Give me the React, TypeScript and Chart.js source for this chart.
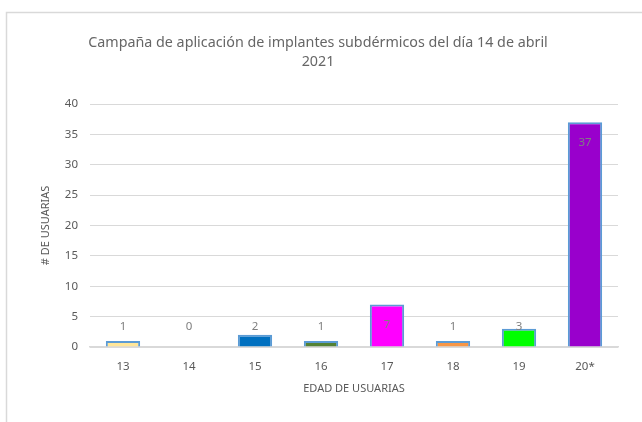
import React, { useEffect, useRef } from "react";
import { Chart, registerables } from "chart.js";

Chart.register(...registerables);

const categories = ["13", "14", "15", "16", "17", "18", "19", "20*"];
const values = [1, 0, 2, 1, 7, 1, 3, 37];
const barColors = ["#FFE699", "#FFFFFF", "#0070C0", "#548235", "#FF00FF", "#F79646", "#00FF00", "#9900CC"];
const titleLines = ["Campaña de aplicación de implantes subdérmicos del día 14 de abril", "2021"];
const yTitle = "# DE USUARIAS";
const xTitle = "EDAD DE USUARIAS";

const FONT = "'Noto Sans', sans-serif";
const TEXT = "#595959";

const framePlugin = {
  id: "frame",
  beforeDraw(chart: any) {
    const ctx = chart.ctx;
    ctx.save();
    ctx.fillStyle = "#ffffff";
    ctx.fillRect(0, 0, chart.width, chart.height);
    ctx.strokeStyle = "#D9D9D9";
    ctx.lineWidth = 1.5;
    ctx.beginPath();
    ctx.moveTo(6.5, chart.height + 2);
    ctx.lineTo(6.5, 12.5);
    ctx.lineTo(chart.width + 2, 12.5);
    ctx.stroke();
    ctx.restore();
  },
  afterDraw(chart: any) {
    const ctx = chart.ctx;
    ctx.save();
    ctx.fillStyle = "#666666";
    ctx.font = `14.3px ${FONT}`;
    ctx.textAlign = "center";
    ctx.textBaseline = "middle";
    const cx = 318;
    titleLines.forEach((line, i) => ctx.fillText(line, cx, 43 + i * 19));
    ctx.restore();
  },
};

const labelPlugin = {
  id: "valueLabels",
  afterDatasetsDraw(chart: any) {
    const ctx = chart.ctx;
    const meta = chart.getDatasetMeta(0);
    const zeroY = chart.scales.y.getPixelForValue(0);
    ctx.save();
    ctx.fillStyle = "#7F7F7F";
    ctx.font = `11.5px ${FONT}`;
    ctx.textAlign = "center";
    ctx.textBaseline = "middle";
    meta.data.forEach((el: any, i: number) => {
      const y = Math.min(el.y + 20, zeroY - 20);
      ctx.fillText(String(values[i]), el.x, y);
    });
    ctx.restore();
  },
};

export default function App() {
  const ref = useRef<HTMLCanvasElement>(null);
  useEffect(() => {
    if (!ref.current) return;
    const chart = new Chart(ref.current, {
      type: "bar",
      data: {
        labels: categories,
        datasets: [
          {
            data: values,
            backgroundColor: barColors,
            borderColor: "#5B9BD5",
            borderWidth: 2,
            categoryPercentage: 1,
            barPercentage: 0.52,
          },
        ],
      },
      options: {
        animation: false,
        responsive: false,
        maintainAspectRatio: false,
        layout: { padding: { top: 104, right: 24, bottom: 0, left: 0 } },
        plugins: {
          legend: { display: false },
          tooltip: { enabled: false },
          title: { display: false },
        },
        scales: {
          x: {
            grid: { display: false },
            border: { display: true, color: "#D9D9D9", width: 1.5 },
            ticks: { color: TEXT, font: { family: FONT, size: 11.5 }, padding: 5 },
            title: {
              display: true,
              text: xTitle,
              color: TEXT,
              font: { family: FONT, size: 11 },
              padding: { top: 0, bottom: 27 },
            },
            afterFit(s: any) {
              s.height = 75;
            },
          },
          y: {
            min: 0,
            max: 40,
            ticks: { stepSize: 5, color: TEXT, font: { family: FONT, size: 11.5 }, padding: 12 },
            grid: { color: "#D9D9D9", lineWidth: 1, drawTicks: false },
            border: { display: false },
            title: {
              display: true,
              text: yTitle,
              color: TEXT,
              font: { family: FONT, size: 11 },
              padding: { top: 39, bottom: 0 },
            },
            afterFit(s: any) {
              s.width = 90;
            },
          },
        },
      },
      plugins: [framePlugin, labelPlugin],
    });
    return () => chart.destroy();
  }, []);
  return (
    <div style={{ position: "fixed", left: 0, top: 0, width: 642, height: 422 }}>
      <canvas ref={ref} width={642} height={422} style={{ display: "block" }} />
    </div>
  );
}
